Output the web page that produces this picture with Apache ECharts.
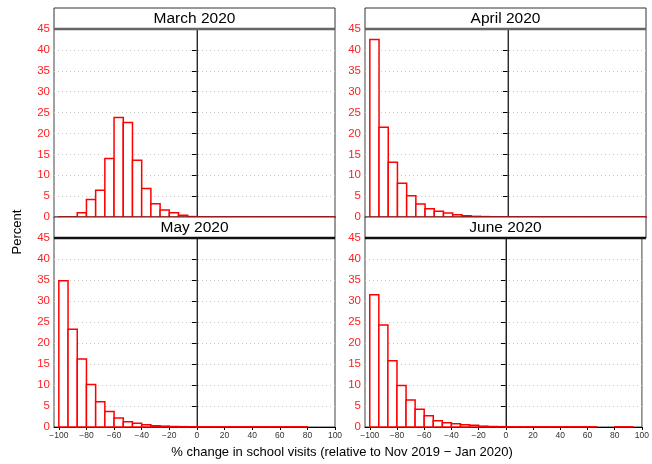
<!DOCTYPE html>
<html><head><meta charset="utf-8">
<script src="https://cdn.jsdelivr.net/npm/echarts@6/dist/echarts.min.js"></script>
<style>html,body{margin:0;padding:0;background:#fff}#c{width:652px;height:464px}</style>
</head><body><div id="c"></div>
<script>
// Histogram bins: start at -100, width 200/30
var binStart = -100;
var binWidth = 20 / 3;
var panelTitles = ["March 2020", "April 2020", "May 2020", "June 2020"];
var yTicks = [0, 5, 10, 15, 20, 25, 30, 35, 40, 45];
var xTicks = [-100, -80, -60, -40, -20, 0, 20, 40, 60, 80, 100];
var march = [0.05, 0.05, 1.0, 4.2, 6.4, 14.0, 23.8, 22.6, 13.6, 6.8, 3.2, 1.7, 1.0, 0.4, 0.1, 0.05, 0.05, 0.05, 0.05, 0.05, 0.05, 0.05, 0.05, 0.05, 0.05, 0.05, 0.05, 0.05, 0.05, 0.05];
var april = [42.5, 21.5, 13.1, 8.1, 5.1, 3.1, 2.0, 1.36, 0.96, 0.56, 0.3, 0.15, 0.1, 0.05, 0.05, 0.05, 0.05, 0.05, 0.05, 0.05, 0.05, 0.05, 0.05, 0.05, 0.05, 0.05, 0.05, 0.05, 0.05, 0.05];
var may = [34.8, 23.3, 16.2, 10.1, 6.0, 3.7, 2.15, 1.27, 0.87, 0.56, 0.3, 0.2, 0.12, 0.08, 0.06, 0.05, 0.05, 0.05, 0.05, 0.05, 0.05, 0.05, 0.05, 0.05, 0.05, 0.05, 0.05, 0, 0, 0];
var june = [31.5, 24.3, 15.8, 9.9, 6.4, 4.2, 2.7, 1.5, 1.0, 0.8, 0.55, 0.4, 0.2, 0.12, 0.08, 0.06, 0.05, 0.05, 0.05, 0.05, 0.05, 0.05, 0.05, 0.05, 0.05, 0, 0, 0.05, 0.05, 0];

var seriesValues = [march, april, may, june];
var panels = [
  {left: 54, top: 29, width: 281, height: 188, bottom: false},
  {left: 365, top: 29, width: 281, height: 188, bottom: false},
  {left: 54, top: 238, width: 281, height: 189, bottom: true},
  {left: 365, top: 238, width: 281, height: 189, bottom: true}
];
var FONT = "Liberation Sans, Arial, sans-serif";

var grids = [], xAxes = [], yAxes = [], series = [], graphics = [];
panels.forEach(function (p, i) {
  grids.push({left: p.left, top: p.top, width: p.width, height: p.height, show: true, borderColor: '#444', borderWidth: 1, backgroundColor: '#fff', containLabel: false});
  xAxes.push({
    type: 'value', gridIndex: i, min: -103.5, max: 100,
    axisLine: {show: true, onZero: false, lineStyle: {color: '#000', width: 1}},
    axisTick: {show: p.bottom, customValues: xTicks, length: 3, lineStyle: {color: '#000'}},
    axisLabel: {show: p.bottom, customValues: xTicks, fontSize: 8.5, color: '#333', fontFamily: FONT, margin: 4,
      formatter: function (v) { return String(v).replace('-', '\u2212'); }},
    splitLine: {show: false}
  });
  yAxes.push({
    type: 'value', gridIndex: i, min: 0, max: 45, interval: 5,
    axisLine: {show: true, lineStyle: {color: '#000', width: 1}},
    axisTick: {show: true, length: 5, lineStyle: {color: '#000'}},
    axisLabel: {color: '#ff2020', fontSize: 11.5, fontFamily: FONT, margin: 4},
    splitLine: {show: true, lineStyle: {color: '#c8c8c8', type: [1, 3], width: 1}}
  });
  var data = seriesValues[i].map(function (v, k) {
    return [binStart + k * binWidth, binStart + (k + 1) * binWidth, v];
  });
  series.push({
    type: 'custom', xAxisIndex: i, yAxisIndex: i, data: data, z: 3,
    renderItem: function (params, api) {
      var v = api.value(2);
      if (!(v > 0)) return null;
      var p0 = api.coord([api.value(0), v]);
      var p1 = api.coord([api.value(1), 0]);
      return {type: 'rect', shape: {x: p0[0], y: p0[1], width: p1[0] - p0[0], height: p1[1] - p0[1]},
        style: {fill: '#fff', stroke: '#ff0000', lineWidth: 1.5}};
    }
  });
  series.push({
    type: 'line', xAxisIndex: i, yAxisIndex: i, data: [[0, 0], [0, 45]], symbol: 'none', z: 2,
    lineStyle: {color: '#666', width: 1}, silent: true
  });
  // strip title box
  var stripTop = p.top - 21;
  graphics.push({type: 'rect', shape: {x: p.left, y: stripTop, width: p.width, height: 21},
    style: {fill: '#fff', stroke: '#333', lineWidth: 1}, z: 10});
  graphics.push({type: 'line', shape: {x1: p.left, y1: p.top, x2: p.left + p.width, y2: p.top},
    style: {stroke: p.bottom ? '#111' : '#666', lineWidth: 2.5}, z: 11});
  graphics.push({type: 'text', x: p.left + p.width / 2, y: stripTop + 11,
    style: {text: panelTitles[i], fontSize: 15.5, fontFamily: FONT, fill: '#000', textAlign: 'center', textVerticalAlign: 'middle'}, z: 12});
});
graphics.push({type: 'text', x: 17, y: 232, rotation: Math.PI / 2,
  style: {text: 'Percent', fontSize: 13, fontFamily: FONT, fill: '#000', textAlign: 'center', textVerticalAlign: 'middle'}, z: 12});
graphics.push({type: 'text', x: 342, y: 452,
  style: {text: '% change in school visits (relative to Nov 2019 \u2212 Jan 2020)', fontSize: 13, fontFamily: FONT, fill: '#000', textAlign: 'center', textVerticalAlign: 'middle'}, z: 12});

var chart = echarts.init(document.getElementById('c'), null, {renderer: 'canvas'});
chart.setOption({
  animation: false,
  backgroundColor: '#fff',
  grid: grids, xAxis: xAxes, yAxis: yAxes, series: series, graphic: graphics
});
</script></body></html>
